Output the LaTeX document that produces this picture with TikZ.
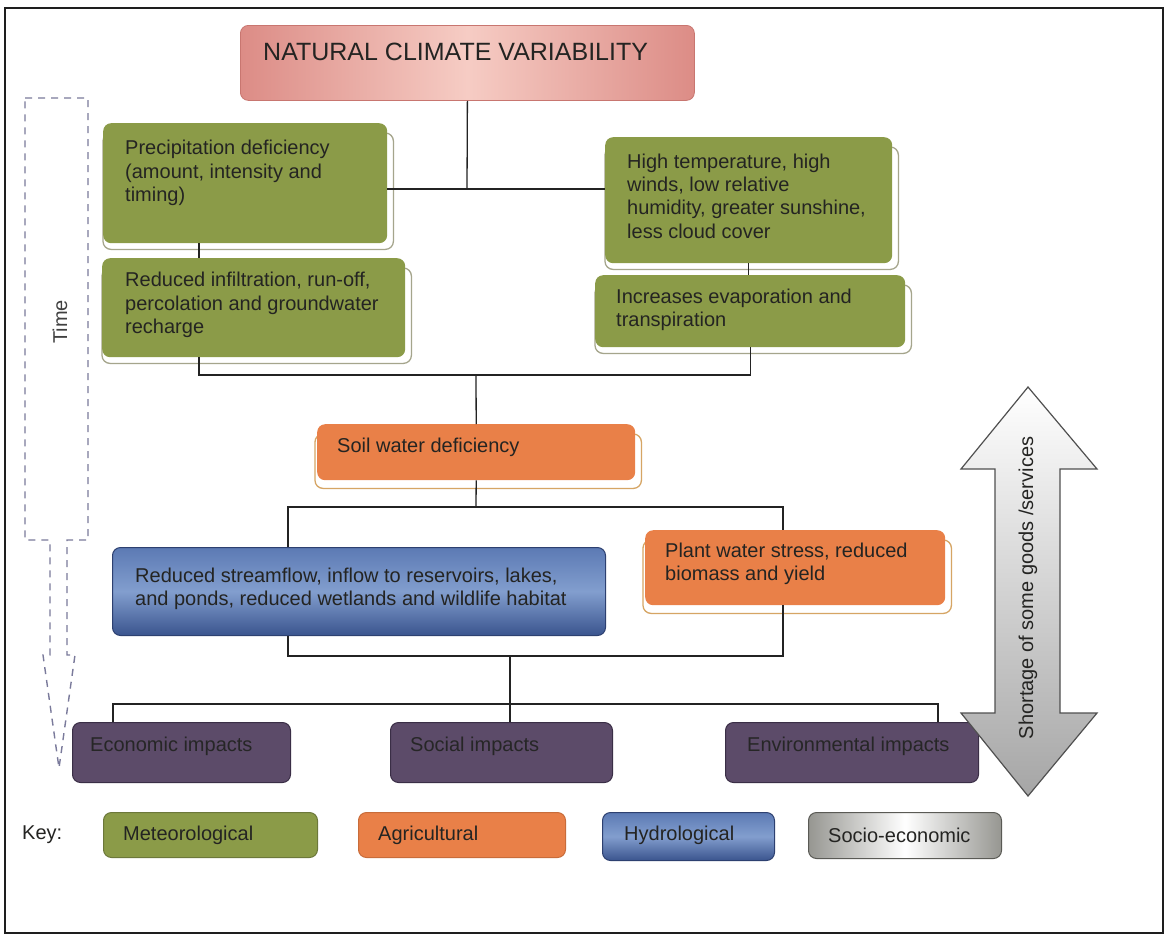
\documentclass[tikz,border=0pt]{standalone}
\usepackage{fontspec}
\setmainfont{Liberation Sans}
\usetikzlibrary{backgrounds}

\definecolor{met}{RGB}{139,155,72}
\definecolor{metedge}{RGB}{108,120,58}
\definecolor{metplate}{RGB}{165,165,140}
\definecolor{agr}{RGB}{233,128,72}
\definecolor{agredge}{RGB}{200,108,58}
\definecolor{agrplate}{RGB}{214,165,100}
\definecolor{hydtop}{RGB}{92,122,180}
\definecolor{hydmid}{RGB}{130,158,206}
\definecolor{hydbot}{RGB}{58,84,142}
\definecolor{hydedge}{RGB}{45,64,112}
\definecolor{imp}{RGB}{92,75,105}
\definecolor{impedge}{RGB}{58,46,70}
\definecolor{rose}{RGB}{220,140,134}
\definecolor{pinkl}{RGB}{246,204,196}
\definecolor{roseedge}{RGB}{200,118,112}
\definecolor{segray}{RGB}{150,150,145}
\definecolor{seedge}{RGB}{90,90,85}
\definecolor{txtc}{RGB}{36,36,34}
\definecolor{linec}{RGB}{35,35,35}
\definecolor{timec}{RGB}{122,122,155}
\definecolor{framec}{RGB}{30,30,30}
\definecolor{arrowedge}{RGB}{80,80,80}

\tikzset{
  conn/.style={draw=linec, line width=1.3pt},
  box/.style={rectangle, rounded corners=8pt, inner sep=0pt, anchor=north west},
  metbox/.style={box, fill=met},
  agrbox/.style={box, fill=agr},
  metkey/.style={box, fill=met, draw=metedge, line width=1pt},
  agrkey/.style={box, fill=agr, draw=agredge, line width=1pt},
  hydbox/.style={box, top color=hydtop, bottom color=hydbot, middle color=hydmid, draw=hydedge, line width=1pt},
  impbox/.style={box, fill=imp, draw=impedge, line width=1pt},
  sebox/.style={box, left color=segray, right color=segray, middle color=white, draw=seedge, line width=1pt},
  titlebox/.style={box, left color=rose, right color=rose, middle color=pinkl, draw=roseedge, line width=0.8pt},
  txt/.style={inner sep=0pt, anchor=west, align=left, text=txtc, font=\fontsize{20}{23.3}\selectfont},
  plate/.style={rounded corners=8pt, fill=white, draw=#1, line width=1.3pt},
  timedash/.style={draw=timec, line width=1.4pt, dash pattern=on 7pt off 6pt},
}

\begin{document}
\begin{tikzpicture}[x=1pt,y=-1pt]
\useasboundingbox (0,0) rectangle (1167,935);

% outer frame
\draw[line width=2.5pt, draw=framec] (5,8) rectangle (1163,933);

% title
\node[titlebox, minimum width=454pt, minimum height=75pt] (ncv) at (240,25) {};
\node[txt, font=\fontsize{25}{30}\selectfont] (ncvt) at (263,52) {NATURAL CLIMATE VARIABILITY};

% meteorological boxes
\node[metbox, minimum width=284pt, minimum height=120pt] (pd) at (103,123) {};
\node[txt] (pdt) at (125,173) {Precipitation deficiency\\(amount, intensity and\\timing)};
\node[metbox, minimum width=303pt, minimum height=99pt] (ri) at (102,258) {};
\node[txt] (rit) at (125,305) {Reduced infiltration, run-off,\\percolation and groundwater\\recharge};
\node[metbox, minimum width=287pt, minimum height=126pt] (ht) at (605,137) {};
\node[txt] (htt) at (627,196) {High temperature, high\\winds, low relative\\humidity, greater sunshine,\\less cloud cover};
\node[metbox, minimum width=310pt, minimum height=72pt] (ie) at (595,275) {};
\node[txt] (iet) at (616,310) {Increases evaporation and\\transpiration};

% agricultural / hydrological
\node[agrbox, minimum width=318pt, minimum height=56pt] (swd) at (317,424) {};
\node[txt] (swdt) at (337,447) {Soil water deficiency};
\node[hydbox, minimum width=493pt, minimum height=88pt] (rs) at (112,547) {};
\node[txt] (rst) at (135,589) {Reduced streamflow, inflow to reservoirs, lakes,\\and ponds, reduced wetlands and wildlife habitat};
\node[agrbox, minimum width=300pt, minimum height=75pt] (pws) at (645,530) {};
\node[txt] (pwst) at (665,564) {Plant water stress, reduced\\biomass and yield};

% impacts
\node[impbox, minimum width=218pt, minimum height=60pt] (eco) at (72,722) {};
\node[txt, text=black!85] (ecot) at (90,746) {Economic impacts};
\node[impbox, minimum width=222pt, minimum height=60pt] (soc) at (390,722) {};
\node[txt, text=black!85] (soct) at (410,746) {Social impacts};
\node[impbox, minimum width=253pt, minimum height=60pt] (env) at (725,722) {};
\node[txt, text=black!85] (envt) at (747,746) {Environmental impacts};

% key
\node[txt] (key) at (22,835) {Key:};
\node[metkey, minimum width=214pt, minimum height=45pt] (kmet) at (103,812) {};
\node[txt] (kmett) at (123,835) {Meteorological};
\node[agrkey, minimum width=207pt, minimum height=45pt] (kagr) at (358,812) {};
\node[txt] (kagrt) at (378,835) {Agricultural};
\node[hydbox, minimum width=172pt, minimum height=48pt] (khyd) at (602,812) {};
\node[txt] (khydt) at (624,835) {Hydrological};
\node[sebox, minimum width=193pt, minimum height=46pt] (kse) at (808,812) {};
\node[txt] (kset) at (828,835) {Socio-economic};

% raised plates under the boxes
\begin{scope}[on background layer]
  \fill[white] (0,0) rectangle (1167,935);
  \foreach \b in {pd,ri,ht,ie}
    \draw[plate=metplate] ([shift={(0,6)}]\b.south west) rectangle ([shift={(6,10)}]\b.north east);
  \foreach \b in {swd,pws}
    \draw[plate=agrplate] ([shift={(-2,8)}]\b.south west) rectangle ([shift={(6,10)}]\b.north east);
\end{scope}

% connectors
\coordinate (j1) at (467,189);
\draw[conn] (ncv.south) -- (j1);
\draw[conn] (pd.east |- j1) -- (ht.west |- j1);
\draw[conn] ([xshift=96pt]pd.south west) -- ([xshift=97pt]ri.north west);
\draw[conn] (ht.south) -- (ht.south |- ie.north);
\coordinate (j2) at (476,375);
\draw[conn] ([xshift=97pt]ri.south west) |- (ie.south |- j2) -- (ie.south);
\draw[conn] (j2) -- (swd.north);
\coordinate (j3) at (476,507);
\draw[conn] (swd.south) -- (j3);
\draw[conn] ([xshift=176pt]rs.north west) |- ([xshift=138pt]pws.north west |- j3) -- ([xshift=138pt]pws.north west);
\coordinate (j4) at (510,656);
\draw[conn] ([xshift=176pt]rs.south west) |- ([xshift=138pt]pws.south west |- j4) -- ([xshift=138pt]pws.south west);
\coordinate (j5) at (510,704);
\draw[conn] (j4) -- (j5);
\draw[conn] ([xshift=41pt]eco.north west) |- ([xshift=213pt]env.north west |- j5) -- ([xshift=213pt]env.north west);
\draw[conn] (j5) -- (soc.north -| j5);

% time arrow
\draw[timedash] (25,98) -- (88,98) -- (88,540) -- (67,540) -- (67,655) -- (75,655)
  -- (59,768) -- (43,655) -- (50,655) -- (50,540) -- (25,540) -- cycle;
\node[txt, anchor=center, rotate=90, text=black!75] (time) at (60,322) {Time};

% shortage double arrow
\draw[draw=arrowedge, line width=1.2pt, top color=white, bottom color=gray!70]
  (1028,387) -- (1097,469) -- (1060,469) -- (1060,713) -- (1097,713) -- (1028,796)
  -- (961,713) -- (995,713) -- (995,469) -- (961,469) -- cycle;
\node[txt, anchor=center, rotate=90] (short) at (1028,588) {Shortage of some goods /services};
\end{tikzpicture}
\end{document}
